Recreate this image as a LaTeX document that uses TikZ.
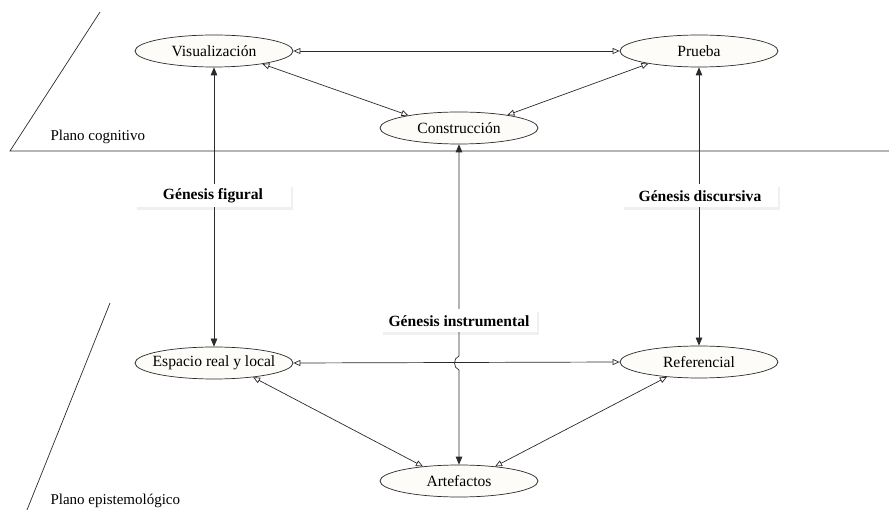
\documentclass[tikz,border=0pt]{standalone}
\usepackage{fontspec}
\setmainfont{Liberation Serif}
\usetikzlibrary{arrows.meta,shapes.geometric,shadows}
\definecolor{ellfill}{HTML}{FDFCF9}
\definecolor{linecol}{HTML}{2A2A2A}
\newcommand\elltext[1]{\makebox[0pt][c]{#1}}
\tikzset{
  ell/.style={ellipse,draw=linecol,line width=0.7pt,fill=ellfill,minimum width=158pt,minimum height=32pt,inner sep=0pt,font=\fontsize{15.6}{17}\selectfont},
  genbox/.style={rectangle,fill=white,minimum width=156pt,minimum height=23pt,inner sep=0pt,font=\bfseries\fontsize{15.6}{17}\selectfont,drop shadow={opacity=0.12,shadow xshift=2pt,shadow yshift=-3pt}},
  openarr/.style={{Triangle[open,length=7pt,width=6pt]}-{Triangle[open,length=7pt,width=6pt]},line width=0.7pt,draw=linecol},
  fillarr/.style={{Triangle[length=8pt,width=6.5pt]}-{Triangle[length=8pt,width=6.5pt]},line width=0.7pt,draw=linecol},
  plane/.style={line width=0.7pt,draw=linecol},
  planelabel/.style={anchor=west,font=\fontsize{15}{17}\selectfont}
}
\begin{document}
\begin{tikzpicture}[x=1pt,y=-1pt]
\useasboundingbox (0,0) rectangle (889,510);
% planes
\coordinate (p1a) at (100,12);
\coordinate (p1b) at (10,151);
\coordinate (p1c) at (889,151);
\draw[plane] (p1a) -- (p1b) -- (p1c);
\coordinate (p2a) at (110,303);
\coordinate (p2b) at (27,510);
\draw[plane] (p2a) -- (p2b);
\node[planelabel] (lcog) at (47,137) {Plano cognitivo};
\node[planelabel] (lepi) at (47,501) {Plano epistemológico};
% ellipses
\node[ell] (vis) at (214,51) {\elltext{Visualización}};
\node[ell] (pru) at (699,51) {\elltext{Prueba}};
\node[ell] (con) at (459,128) {\elltext{Construcción}};
\node[ell] (esp) at (214,363) {\elltext{Espacio real y local}};
\node[ell] (ref) at (699,362) {\elltext{Referencial}};
\node[ell] (art) at (459,481) {\elltext{Artefactos}};
% open arrows
\draw[openarr] (vis.east) -- (pru.west);
\draw[openarr] (vis.-15) -- (con.166);
\draw[openarr] (pru.194) -- (con.15);
\draw[openarr] (esp.east) -- (ref.west);
\draw[openarr] (esp.-20) -- (art.158);
\draw[openarr] (ref.-155) -- (art.22);
% vertical genesis arrows
\draw[fillarr] (vis.south) -- (esp.north);
\draw[fillarr] (pru.south) -- (ref.north);
\coordinate (hopa) at (459,356);
\coordinate (hopb) at (459,370);
\draw[fillarr] (con.south) -- (hopa) .. controls (453,358) and (453,368) .. (hopb) -- (art.north);
% labels
\node[genbox] (gfig) at (213,196) {Génesis figural};
\node[genbox] (gdis) at (700,196) {Génesis discursiva};
\node[genbox] (gins) at (459,321) {Génesis instrumental};
\end{tikzpicture}
\end{document}
